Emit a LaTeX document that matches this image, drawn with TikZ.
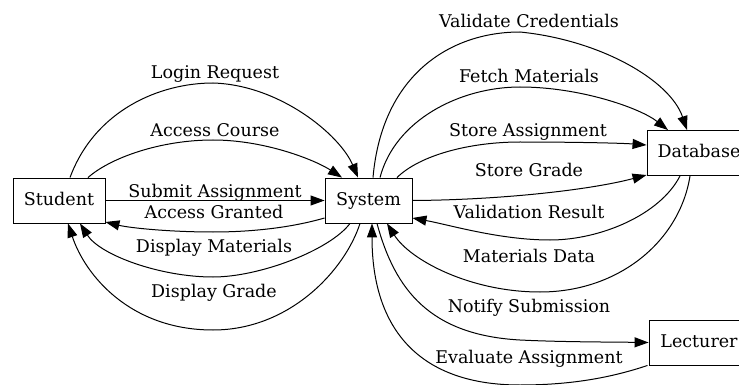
\documentclass[tikz,border=0pt]{standalone}
\usepackage{fontspec}
\setmainfont{DejaVu Serif}
\usetikzlibrary{arrows.meta,calc}
\begin{document}
\begin{tikzpicture}[x=1pt,y=-1pt,
  every node/.style={font=\fontsize{17.5}{20}\selectfont},
  box/.style={draw,line width=0.9pt,inner sep=0pt,minimum height=45pt,text height=13pt,text depth=4pt},
  lbl/.style={anchor=base,inner sep=0pt},
  edge/.style={line width=1pt,-{Triangle[length=14pt,width=10pt]}}]
\useasboundingbox (0,0) rectangle (739,385);
\clip (0,0) rectangle (739,385);
% nodes
\node[box,minimum width=92pt] (student) at (59,200.5) {Student};
\node[box,minimum width=87pt] (system) at (368.5,200.5) {System};
\node[box,minimum width=104pt] (database) at (699,153) {Database};
\node[box,minimum width=100pt] (lecturer) at (699,342.5) {Lecturer};
% left edges
\draw[edge] ($(student.north)+(11,0)$) .. controls (95,110) and (160,83) .. (213,83)
  .. controls (280,85) and (340,135) .. ($(system.north)+(-10.5,0)$);
\draw[edge] ($(student.north)+(29,0)$) .. controls (110,158) and (160,140) .. (213,140)
  .. controls (265,140) and (315,160) .. ($(system.north)+(-26.5,0)$);
\draw[edge] (student.east) -- (system.west);
\draw[edge] ($(system.west)+(0,17.5)$) .. controls (290,228) and (250,232) .. (213,232)
  .. controls (170,232) and (130,228) .. ($(student.east)+(0,21.5)$);
\draw[edge] ($(system.south)+(-18.5,0)$) .. controls (330,250) and (260,277) .. (213,277)
  .. controls (160,277) and (100,255) .. ($(student.south)+(21,0)$);
\draw[edge] ($(system.south)+(-8.5,0)$) .. controls (345,270) and (290,330) .. (213,330)
  .. controls (130,330) and (85,275) .. ($(student.south)+(9,0)$);
% right edges
\draw[edge] ($(system.north)+(4.5,0)$) .. controls (382,75) and (450,32) .. (520,32)
  .. controls (600,40) and (670,80) .. ($(database.north)+(-12,0)$);
\draw[edge] ($(system.north)+(11.5,0)$) .. controls (395,120) and (460,87) .. (520,87)
  .. controls (580,87) and (640,108) .. ($(database.north)+(-31,0)$);
\draw[edge] ($(system.north)+(28.5,0)$) .. controls (420,155) and (470,142) .. (520,142)
  .. controls (570,142) and (620,143) .. ($(database.west)+(0,-8)$);
\draw[edge] (system.east) .. controls (500,200) and (590,190) .. ($(database.west)+(0,22)$);
\draw[edge] ($(database.south)+(-19,0)$) .. controls (660,215) and (600,240) .. (550,240)
  .. controls (500,240) and (450,225) .. ($(system.east)+(0,17.5)$);
\draw[edge] ($(database.south)+(-9,0)$) .. controls (680,240) and (620,292) .. (540,292)
  .. controls (470,292) and (410,260) .. ($(system.south)+(18.5,0)$);
\draw[edge] ($(system.south)+(8.5,0)$) .. controls (395,290) and (430,335) .. (520,340)
  .. controls (560,342) and (610,342) .. (lecturer.west);
\draw[edge] ($(lecturer.south west)+(-1,0)$) .. controls (610,378) and (570,385) .. (520,385)
  .. controls (420,385) and (372,330) .. ($(system.south)+(3.5,0)$);
% labels
\node[lbl] (l1) at (215,79) {Login Request};
\node[lbl] (l2) at (215,137) {Access Course};
\node[lbl] (l3) at (215,197) {Submit Assignment};
\node[lbl] (l4) at (214,218) {Access Granted};
\node[lbl] (l5) at (214,252) {Display Materials};
\node[lbl] (l6) at (214,297) {Display Grade};
\node[lbl] (l7) at (529,28) {Validate Credentials};
\node[lbl] (l8) at (529,83) {Fetch Materials};
\node[lbl] (l9) at (528,137) {Store Assignment};
\node[lbl] (l10) at (529,176) {Store Grade};
\node[lbl] (l11) at (529,218) {Validation Result};
\node[lbl] (l12) at (529,262) {Materials Data};
\node[lbl] (l13) at (529,312) {Notify Submission};
\node[lbl] (l14) at (529,363) {Evaluate Assignment};
\end{tikzpicture}
\end{document}
